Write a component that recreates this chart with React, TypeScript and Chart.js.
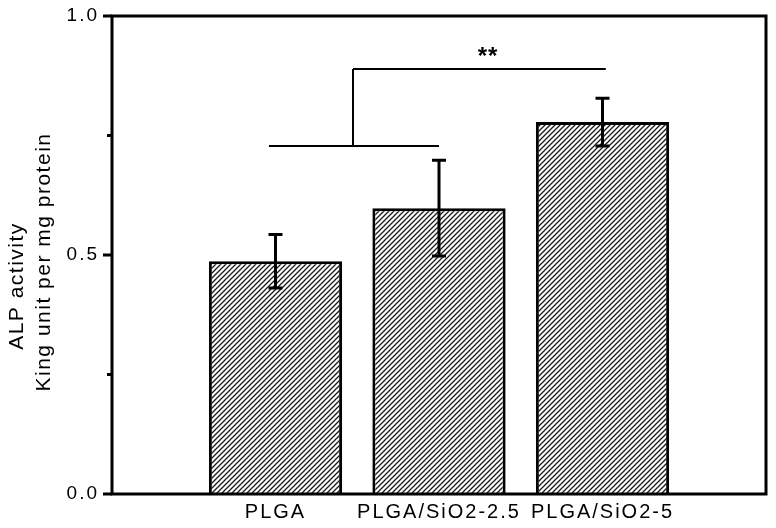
import React, { useEffect, useRef } from "react";
import { Chart, registerables } from "chart.js";

Chart.register(...registerables);

// ---- data ----
const categories = ["PLGA", "PLGA/SiO2-2.5", "PLGA/SiO2-5"];
const positions = [1, 2, 3];
const alpValues = [0.487, 0.598, 0.778];
const alpErrors = [0.056, 0.1, 0.05];
const yTicks = [0, 0.5, 1.0];
const yMinorTicks = [0.25, 0.75];
const yTitleLines = ["ALP activity", "King unit per mg protein"];

// significance bracket (data coordinates)
const bracketLowX = [0.96, 2.0];
const bracketLowY = 0.728;
const bracketStemX = 1.474;
const bracketHighX = [1.474, 3.02];
const bracketHighY = 0.889;
const sigLabel = "**";
const sigLabelPos = [2.3, 0.9];

const FONT = "'Liberation Sans', Arial, sans-serif";

function makeHatch(): CanvasPattern | string {
  const c = document.createElement("canvas");
  const s = 5;
  c.width = s;
  c.height = s;
  const g = c.getContext("2d");
  if (!g) return "#fff";
  g.fillStyle = "#fff";
  g.fillRect(0, 0, s, s);
  g.strokeStyle = "#1a1a1a";
  g.lineWidth = 1.3;
  g.beginPath();
  g.moveTo(-1, s + 1);
  g.lineTo(s + 1, -1);
  g.moveTo(-1, 1);
  g.lineTo(1, -1);
  g.moveTo(s - 1, s + 1);
  g.lineTo(s + 1, s - 1);
  g.stroke();
  const p = g.createPattern(c, "repeat");
  return p || "#fff";
}

const overlayPlugin = {
  id: "overlay",
  beforeDraw(chart: any) {
    chart.ctx.letterSpacing = "2px";
  },
  afterDatasetsDraw(chart: any) {
    const ctx = chart.ctx;
    const yScale = chart.scales.y;
    const meta = chart.getDatasetMeta(0);
    ctx.save();
    ctx.strokeStyle = "#000";
    ctx.lineWidth = 3;
    ctx.lineCap = "butt";
    meta.data.forEach((bar: any, i: number) => {
      const x = bar.x;
      const yTop = yScale.getPixelForValue(alpValues[i] + alpErrors[i]);
      const yBot = yScale.getPixelForValue(alpValues[i] - alpErrors[i]);
      ctx.beginPath();
      ctx.moveTo(x, yTop);
      ctx.lineTo(x, yBot);
      ctx.moveTo(x - 7, yTop);
      ctx.lineTo(x + 7, yTop);
      ctx.moveTo(x - 7, yBot);
      ctx.lineTo(x + 7, yBot);
      ctx.stroke();
    });
    ctx.restore();
  },
  afterDraw(chart: any) {
    const ctx = chart.ctx;
    const { left, right, top, bottom } = chart.chartArea;
    const xs = chart.scales.x;
    const ys = chart.scales.y;
    ctx.save();
    ctx.letterSpacing = "0px";
    // frame
    ctx.strokeStyle = "#000";
    ctx.lineWidth = 3;
    ctx.lineJoin = "miter";
    ctx.strokeRect(left, top, right - left, bottom - top);
    // y ticks
    ctx.beginPath();
    yTicks.forEach((v) => {
      const y = ys.getPixelForValue(v);
      ctx.moveTo(left - 9, y);
      ctx.lineTo(left, y);
    });
    yMinorTicks.forEach((v) => {
      const y = ys.getPixelForValue(v);
      ctx.moveTo(left - 5, y);
      ctx.lineTo(left, y);
    });
    ctx.stroke();
    // bracket
    ctx.lineWidth = 2;
    ctx.beginPath();
    ctx.moveTo(xs.getPixelForValue(bracketLowX[0]), ys.getPixelForValue(bracketLowY));
    ctx.lineTo(xs.getPixelForValue(bracketLowX[1]), ys.getPixelForValue(bracketLowY));
    ctx.moveTo(xs.getPixelForValue(bracketStemX), ys.getPixelForValue(bracketLowY));
    ctx.lineTo(xs.getPixelForValue(bracketStemX), ys.getPixelForValue(bracketHighY));
    ctx.moveTo(xs.getPixelForValue(bracketHighX[0]), ys.getPixelForValue(bracketHighY));
    ctx.lineTo(xs.getPixelForValue(bracketHighX[1]), ys.getPixelForValue(bracketHighY));
    ctx.stroke();
    // significance label
    ctx.fillStyle = "#000";
    ctx.font = `bold 24px ${FONT}`;
    ctx.textAlign = "center";
    ctx.textBaseline = "alphabetic";
    ctx.letterSpacing = "1px";
    ctx.fillText(sigLabel, xs.getPixelForValue(sigLabelPos[0]), ys.getPixelForValue(sigLabelPos[1]));
    // y title
    const cy = (top + bottom) / 2;
    ctx.font = `21px ${FONT}`;
    ctx.textBaseline = "middle";
    ctx.letterSpacing = "1.5px";
    const lineX = [left - 95, left - 68];
    const lineY = [cy + 31, cy + 7];
    yTitleLines.forEach((t, i) => {
      ctx.save();
      ctx.translate(lineX[i], lineY[i]);
      ctx.rotate(-Math.PI / 2);
      ctx.fillText(t, 0, 0);
      ctx.restore();
    });
    ctx.restore();
  },
};

export default function App() {
  const canvasRef = useRef<HTMLCanvasElement | null>(null);

  useEffect(() => {
    document.body.style.margin = "0";
    const canvas = canvasRef.current;
    if (!canvas) return;
    const hatch = makeHatch();
    const chart = new Chart(canvas, {
      type: "bar",
      data: {
        datasets: [
          {
            label: "ALP activity",
            data: positions.map((p, i) => ({ x: p, y: alpValues[i] })),
            backgroundColor: hatch as any,
            borderColor: "#000",
            borderWidth: 3,
            borderSkipped: "bottom",
            barPercentage: 0.815,
            categoryPercentage: 1,
          },
        ],
      },
      options: {
        animation: false,
        responsive: false,
        maintainAspectRatio: false,
        devicePixelRatio: 1,
        layout: { padding: { left: 0, top: 16, right: 10, bottom: 0 } },
        plugins: {
          legend: { display: false },
          tooltip: { enabled: false },
          title: { display: false },
        },
        scales: {
          x: {
            type: "linear",
            offset: false,
            min: 0,
            max: 4,
            grid: { display: false, drawTicks: false },
            border: { display: false },
            afterBuildTicks: (scale: any) => {
              scale.ticks = positions.map((v) => ({ value: v }));
            },
            afterFit: (scale: any) => {
              scale.height = 34;
              scale.paddingLeft = 0;
              scale.paddingRight = 0;
            },
            ticks: {
              autoSkip: false,
              maxRotation: 0,
              padding: 6,
              color: "#000",
              font: { family: FONT, size: 20 },
              callback: (v: any) => {
                const i = positions.indexOf(Number(v));
                return i >= 0 ? categories[i] : "";
              },
            },
          },
          y: {
            min: 0,
            max: 1,
            grid: { display: false, drawTicks: false },
            border: { display: false },
            afterBuildTicks: (scale: any) => {
              scale.ticks = yTicks.map((v) => ({ value: v }));
            },
            afterFit: (scale: any) => {
              scale.width = 112;
              scale.paddingTop = 0;
              scale.paddingBottom = 0;
            },
            ticks: {
              padding: 13,
              color: "#000",
              font: { family: FONT, size: 19 },
              callback: (v: any) => Number(v).toFixed(1),
            },
          },
        },
      },
      plugins: [overlayPlugin],
    });
    return () => chart.destroy();
  }, []);

  return (
    <div style={{ width: 776, height: 528, position: "relative" }}>
      <canvas ref={canvasRef} width={776} height={528} style={{ display: "block" }} />
    </div>
  );
}
